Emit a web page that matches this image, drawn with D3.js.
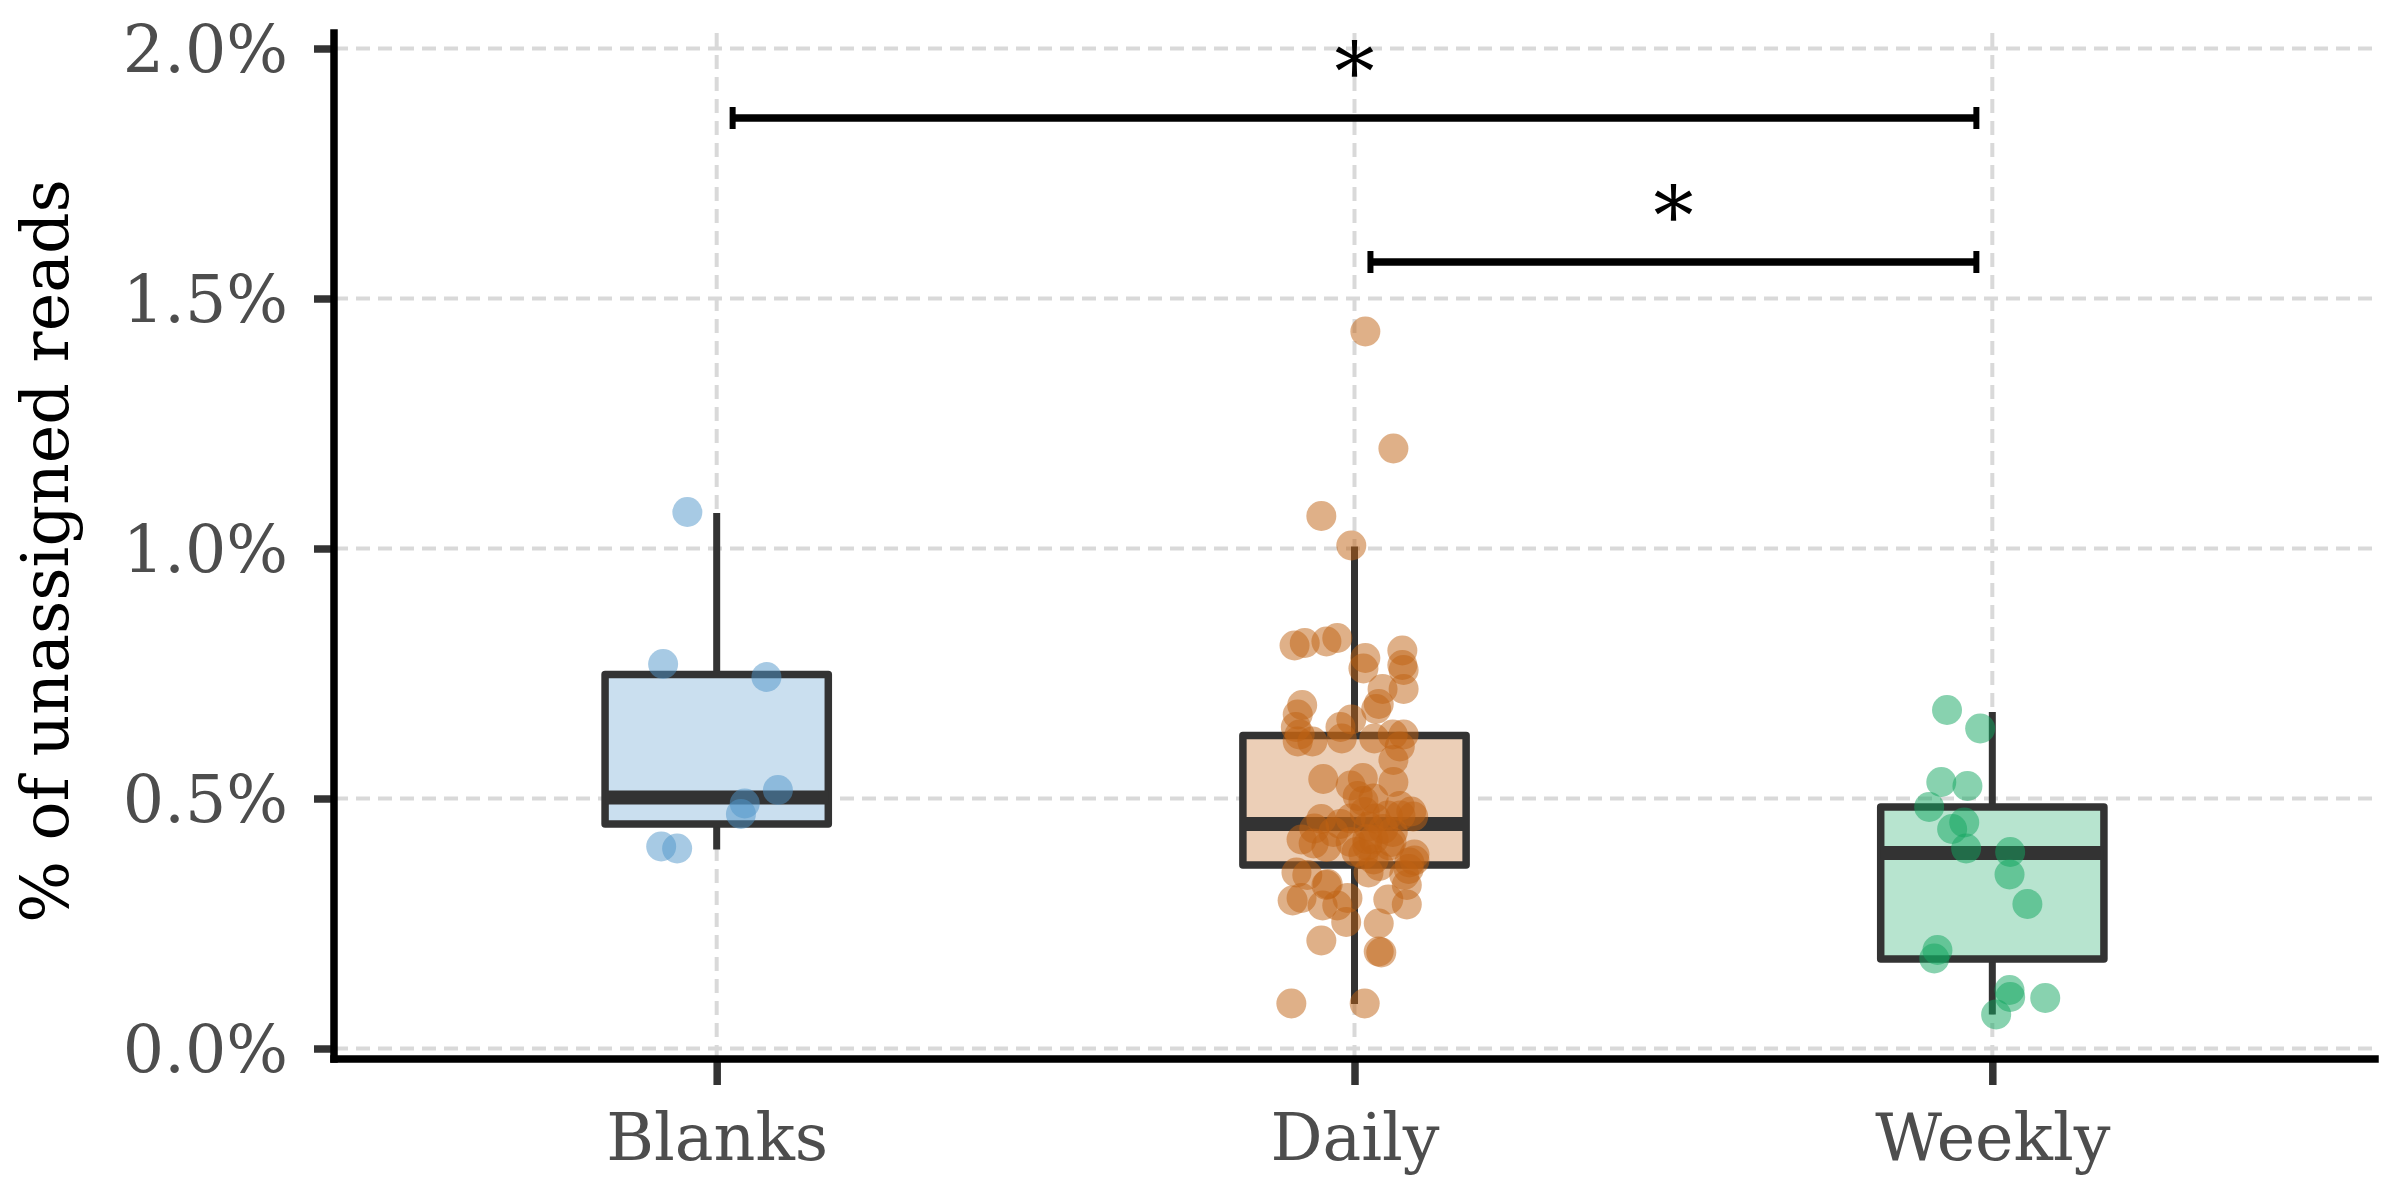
<!DOCTYPE html>
<html>
<head>
<meta charset="utf-8">
<script src="https://cdn.jsdelivr.net/npm/d3@7"></script>
<style>
  html, body { margin: 0; padding: 0; background: #ffffff; }
  svg { display: block; }
</style>
</head>
<body>
<svg id="chart" width="2400" height="1200"></svg>
<script>
// ---------------- data ----------------
const categories = ["Blanks", "Daily", "Weekly"];
const colors = ["#4f95c9", "#bf6111", "#12a55f"];

// box statistics, % of unassigned reads
const boxQ1      = [0.449, 0.367, 0.179];
const boxMedian  = [0.502, 0.449, 0.391];
const boxQ3      = [0.748, 0.626, 0.483];
const whiskerLow = [0.398, 0.089, 0.068];
const whiskerHigh= [1.071, 1.004, 0.673];

// individual samples: value and horizontal jitter (fraction of category step)
const blanksValues = [1.073, 0.769, 0.743, 0.517, 0.490, 0.469, 0.404, 0.400];
const blanksJitter = [-0.046, -0.084, 0.078, 0.096, 0.044, 0.038, -0.087, -0.062];

const dailyValues = [
  1.434, 1.200, 1.065, 1.006, 0.090, 0.090,
  0.806, 0.811, 0.814, 0.821, 0.796, 0.781, 0.760, 0.767, 0.757, 0.719, 0.719,
  0.687, 0.689, 0.668, 0.679, 0.643, 0.628, 0.614, 0.614, 0.643, 0.658, 0.620,
  0.620, 0.628, 0.628, 0.604, 0.577, 0.539, 0.533, 0.526, 0.541, 0.505, 0.495,
  0.485, 0.474, 0.464, 0.459, 0.449, 0.444, 0.439, 0.418, 0.410, 0.403, 0.413,
  0.418, 0.413, 0.388, 0.388, 0.372, 0.378, 0.352, 0.347, 0.352, 0.347, 0.327,
  0.327, 0.296, 0.301, 0.286, 0.286, 0.301, 0.298, 0.288, 0.253, 0.250, 0.216,
  0.194, 0.192,
  0.473, 0.460, 0.466, 0.406, 0.406, 0.433, 0.433, 0.393, 0.419, 0.440, 0.460,
  0.466, 0.376, 0.359, 0.500, 0.365, 0.329
];
const dailyJitter = [
  0.017, 0.061, -0.052, -0.005, -0.099, 0.016,
  -0.094, -0.078, -0.044, -0.027, 0.075, 0.017, 0.014, 0.075, 0.077, 0.044, 0.077,
  -0.082, 0.038, -0.089, 0.034, -0.092, -0.086, -0.089, -0.066, -0.022, -0.005, -0.020,
  0.031, 0.060, 0.077, 0.071, 0.061, -0.049, 0.061, -0.006, 0.013, 0.005, 0.014,
  0.071, 0.089, 0.092, -0.052, -0.022, 0.022, 0.045, -0.083, -0.064, -0.044, -0.006,
  0.030, 0.058, 0.014, 0.094, 0.086, 0.030, -0.091, -0.074, 0.022, 0.078, -0.044,
  0.082, -0.097, -0.083, -0.050, -0.027, -0.011, 0.053, 0.082, -0.013, 0.038, -0.052,
  0.038, 0.042,
  0.016, 0.033, 0.052, 0.020, 0.055, 0.060, -0.033, 0.003, 0.020, -0.063, -0.006,
  0.072, 0.094, 0.085, 0.030, 0.039, -0.042
];

const weeklyValues = [0.677, 0.640, 0.533, 0.525, 0.483, 0.452, 0.439, 0.400, 0.393,
                      0.348, 0.289, 0.197, 0.180, 0.117, 0.103, 0.101, 0.068];
const weeklyJitter = [-0.071, -0.019, -0.080, -0.039, -0.099, -0.044, -0.063, -0.041, 0.028,
                      0.027, 0.055, -0.086, -0.091, 0.027, 0.028, 0.083, 0.006];

const yTicks = [0, 0.5, 1.0, 1.5, 2.0];
const yLabel = "% of unassigned reads";

// significance brackets
const bracketFrom  = [0, 1];
const bracketTo    = [2, 2];
const bracketLevel = [1.861, 1.573];
const bracketText  = ["*", "*"];

// ---------------- drawing ----------------
(function draw() {
const FONT = "'DejaVu Serif', 'Liberation Serif', serif";
const svg = d3.select("#chart");

const pL = 334, pR = 2375, pT = 33, pB = 1059;
const x = d3.scaleLinear().domain([-0.6, 2.6]).range([pL, pR]);
const y = d3.scaleLinear().domain([-0.021, 2.031]).range([pB, pT]);
const step = x(1) - x(0);
const boxHalf = 0.175 * step;

// grid
const grid = svg.append("g").attr("stroke", "#d9d9d9").attr("stroke-width", 4)
  .attr("stroke-dasharray", "14,8");
grid.selectAll("line.h").data(yTicks).join("line").attr("class", "h")
  .attr("x1", pL).attr("x2", pR)
  .attr("y1", d => y(d)).attr("y2", d => y(d));
grid.selectAll("line.v").data(categories.map((c, i) => i)).join("line").attr("class", "v")
  .attr("x1", d => x(d)).attr("x2", d => x(d))
  .attr("y1", pT).attr("y2", pB);

// boxes
const boxData = categories.map((c, i) => ({
  i, q1: boxQ1[i], med: boxMedian[i], q3: boxQ3[i], lo: whiskerLow[i], hi: whiskerHigh[i]
}));
const boxes = svg.append("g");
boxes.selectAll("line.wu").data(boxData).join("line").attr("class", "wu")
  .attr("x1", d => x(d.i)).attr("x2", d => x(d.i))
  .attr("y1", d => y(d.q3)).attr("y2", d => y(d.hi))
  .attr("stroke", "#333333").attr("stroke-width", 7);
boxes.selectAll("line.wl").data(boxData).join("line").attr("class", "wl")
  .attr("x1", d => x(d.i)).attr("x2", d => x(d.i))
  .attr("y1", d => y(d.q1)).attr("y2", d => y(d.lo))
  .attr("stroke", "#333333").attr("stroke-width", 7);
boxes.selectAll("rect.bg").data(boxData).join("rect").attr("class", "bg")
  .attr("x", d => x(d.i) - boxHalf).attr("width", 2 * boxHalf)
  .attr("y", d => y(d.q3)).attr("height", d => y(d.q1) - y(d.q3))
  .attr("fill", "#ffffff");
boxes.selectAll("rect.box").data(boxData).join("rect").attr("class", "box")
  .attr("x", d => x(d.i) - boxHalf).attr("width", 2 * boxHalf)
  .attr("y", d => y(d.q3)).attr("height", d => y(d.q1) - y(d.q3))
  .attr("fill", d => colors[d.i]).attr("fill-opacity", 0.3)
  .attr("stroke", "#333333").attr("stroke-width", 7.5).attr("stroke-linejoin", "round");
boxes.selectAll("line.med").data(boxData).join("line").attr("class", "med")
  .attr("x1", d => x(d.i) - boxHalf).attr("x2", d => x(d.i) + boxHalf)
  .attr("y1", d => y(d.med)).attr("y2", d => y(d.med))
  .attr("stroke", "#333333").attr("stroke-width", 14);

// points
const groups = [
  { i: 0, v: blanksValues, j: blanksJitter },
  { i: 1, v: dailyValues, j: dailyJitter },
  { i: 2, v: weeklyValues, j: weeklyJitter }
];
const pts = [];
groups.forEach(g => g.v.forEach((v, k) => pts.push({ i: g.i, v, j: g.j[k] })));
svg.append("g").selectAll("circle").data(pts).join("circle")
  .attr("cx", d => x(d.i + d.j)).attr("cy", d => y(d.v)).attr("r", 15)
  .attr("fill", d => colors[d.i]).attr("fill-opacity", 0.5);

// axes
const yAxis = d3.axisLeft(y).tickValues(yTicks)
  .tickFormat(d => d.toFixed(1) + "%").tickSize(20).tickPadding(26).tickSizeOuter(0);
const gy = svg.append("g").attr("transform", `translate(${pL},0)`).call(yAxis);
gy.select(".domain").remove();
gy.selectAll(".tick line").attr("stroke", "#333333").attr("stroke-width", 7.5);
gy.selectAll(".tick text").attr("font-family", FONT).attr("font-size", 65)
  .attr("fill", "#4d4d4d").attr("dy", "0.36em");

const xAxis = d3.axisBottom(x).tickValues([0, 1, 2])
  .tickFormat(i => categories[i]).tickSize(26).tickSizeOuter(0);
const gx = svg.append("g").attr("transform", `translate(0,${pB})`).call(xAxis);
gx.select(".domain").remove();
gx.selectAll(".tick line").attr("stroke", "#333333").attr("stroke-width", 7.5);
gx.selectAll(".tick text").attr("font-family", FONT).attr("font-size", 65)
  .attr("fill", "#4d4d4d").attr("y", 101).attr("dy", "0");

// spines
svg.append("line").attr("x1", pL).attr("x2", pL).attr("y1", pT).attr("y2", pB)
  .attr("stroke", "#000").attr("stroke-width", 7.5).attr("stroke-linecap", "square");
svg.append("line").attr("x1", pL).attr("x2", pR).attr("y1", pB).attr("y2", pB)
  .attr("stroke", "#000").attr("stroke-width", 7.5).attr("stroke-linecap", "square");

// y label
svg.append("text")
  .attr("transform", `translate(68,${(pT + pB) / 2 + 5}) rotate(-90)`)
  .attr("text-anchor", "middle")
  .attr("font-family", FONT).attr("font-size", 65).attr("fill", "#000")
  .text(yLabel);

// significance brackets
const inset = 0.025;
const br = svg.append("g");
bracketLevel.forEach((lv, k) => {
  const x1 = x(bracketFrom[k] + inset), x2 = x(bracketTo[k] - inset), yy = y(lv);
  br.append("line").attr("x1", x1).attr("x2", x2).attr("y1", yy).attr("y2", yy)
    .attr("stroke", "#000").attr("stroke-width", 7.5);
  [x1, x2].forEach(xx => br.append("line").attr("x1", xx).attr("x2", xx)
    .attr("y1", yy - 11).attr("y2", yy + 11).attr("stroke", "#000").attr("stroke-width", 6));
  br.append("text").attr("x", (x1 + x2) / 2).attr("y", yy - 18)
    .attr("text-anchor", "middle").attr("font-family", FONT).attr("font-size", 80)
    .attr("fill", "#000").text(bracketText[k]);
});
})();
</script>
</body>
</html>
